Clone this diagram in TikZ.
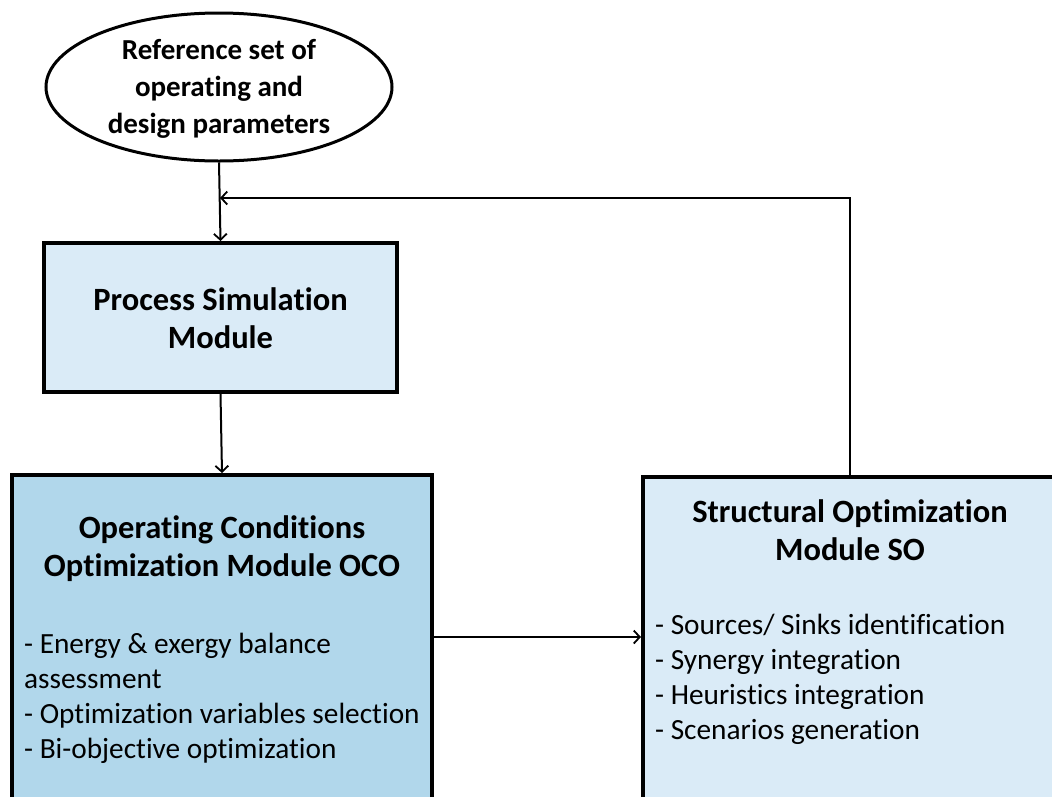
\documentclass[tikz,border=0pt]{standalone}
\usepackage{fontspec}
\setmainfont{Carlito}[Ligatures={NoCommon}]
\usetikzlibrary{shapes.geometric,arrows.meta}
\definecolor{palebox}{HTML}{DAEBF7}
\definecolor{deepbox}{HTML}{B1D7EB}

\begin{document}
\begin{tikzpicture}[x=1pt,y=-1pt]
\tikzstyle{every node}+=[inner sep=0pt]
\tikzstyle{module}=[draw=black,line width=4pt,rectangle]
\tikzstyle{head}=[font=\bfseries\fontsize{32.5}{38}\selectfont,align=center]
\tikzstyle{items}=[font=\fontsize{29.3}{35}\selectfont,align=left,anchor=west]
\tikzstyle{flow}=[line width=2pt,-{Straight Barb[length=6pt,width=13pt,line width=1.8pt]}]
\clip (0,0) rectangle (1052,796);
\fill [white] (0,0) rectangle (1052,796);
% input parameters
\node [draw=black,line width=3pt,ellipse,minimum width=346pt,minimum height=148pt] (ref) at (219,87) {};
\node [head,font=\bfseries\fontsize{29}{37}\selectfont] (reftext) at (219,89) {Reference set of\\operating and\\design parameters};
% modules
\node [module,fill=palebox,minimum width=353pt,minimum height=149pt] (psm) at (220.5,317.5) {};
\node [head] (psmtext) at (220.5,318) {Process Simulation\\Module};
\node [module,fill=deepbox,minimum width=420pt,minimum height=400pt,anchor=north] (oco) at (222,473) {};
\node [head] (ocotext) at (222,549) {Operating Conditions\\Optimization Module OCO};
\node [items] (ocoitems) at (24,698) {- Energy \& exergy balance\\assessment\\- Optimization variables selection\\- Bi-objective optimization};
\node [module,fill=palebox,minimum width=420pt,minimum height=400pt,anchor=north west] (so) at (641,475) {};
\node [head] (sotext) at (850,530) {Structural Optimization\\Module SO};
\node [items] (soitems) at (655,679) {- Sources/ Sinks identification\\- Synergy integration\\- Heuristics integration\\- Scenarios generation};
% connectors
\coordinate (fb) at (220,198);
\coordinate (ret) at (850,198);
\coordinate (mid) at (0,637);
\draw [flow] (ref.south) -- (psm.north);
\draw [flow] (psm.south) -- (oco.north);
\draw [flow] (so.north -| ret) |- (fb);
\draw [flow] (oco.east |- mid) -- (so.west |- mid);
\end{tikzpicture}
\end{document}
